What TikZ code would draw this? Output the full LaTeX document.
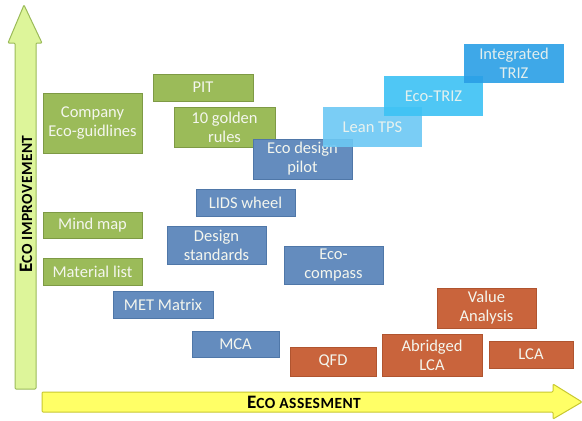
\documentclass[tikz,border=0pt]{standalone}
\usepackage{fontspec}
\setmainfont{Carlito}
\definecolor{gfill}{HTML}{9BBB59}
\definecolor{gdraw}{HTML}{7E9A45}
\definecolor{bfill}{HTML}{648CBE}
\definecolor{bdraw}{HTML}{4F77A8}
\definecolor{ofill}{HTML}{C9643C}
\definecolor{odraw}{HTML}{B0542F}
\definecolor{lt1}{HTML}{6CC8F4}
\definecolor{lt2}{HTML}{3CC2F4}
\definecolor{lt3}{HTML}{2A9FE6}
\definecolor{varrowfill}{HTML}{DDF59A}
\definecolor{varrowdraw}{HTML}{9BBB59}
\definecolor{harrowfill}{HTML}{FFFF66}
\definecolor{harrowdraw}{HTML}{C8C830}
\definecolor{boxtext}{HTML}{F4F6EE}
\newfontfamily\axisfont[LetterSpace=3]{Carlito}
\begin{document}
\begin{tikzpicture}[x=1pt,y=-1pt,
  box/.style={draw, line width=0.8pt, align=center, text=boxtext, inner sep=0pt,
    font=\fontsize{16.5}{19}\selectfont},
  gbox/.style={box, fill=gfill, draw=gdraw},
  bbox/.style={box, fill=bfill, draw=bdraw},
  obox/.style={box, fill=ofill, draw=odraw},
  tbox/.style={box, draw=none, fill opacity=0.9},
  axislabel/.style={font=\axisfont\bfseries, text=black}]
\useasboundingbox[fill=white] (0,0) rectangle (582,421);
% vertical arrow
\draw[fill=varrowfill, draw=varrowdraw, line width=1pt, rounded corners=1pt]
  (15,389) -- (15,43) -- (8,43) -- (24,5) -- (42,43) -- (36,43) -- (36,389) -- cycle;
\node[axislabel, rotate=90] (ylab) at (26,204) {{\fontsize{19}{19}\selectfont E}{\fontsize{15.5}{15.5}\selectfont CO IMPROVEMENT}};
% horizontal arrow
\draw[fill=harrowfill, draw=harrowdraw, line width=1pt, rounded corners=1pt]
  (42,392) -- (553,392) -- (553,384) -- (582,402) -- (553,419) -- (553,412) -- (42,412) -- cycle;
\node[axislabel] (xlab) at (304,402) {{\fontsize{19}{19}\selectfont E}{\fontsize{15.5}{15.5}\selectfont CO ASSESMENT}};
% green boxes
\node[gbox, minimum width=99pt, minimum height=60pt] (company) at (92.5,123) {Company\\Eco-guidlines};
\node[gbox, minimum width=100pt, minimum height=27pt] (pit) at (203,87.5) {PIT};
\node[gbox, minimum width=101pt, minimum height=40pt] (golden) at (224.5,127) {10 golden\\rules};
\node[gbox, minimum width=99pt, minimum height=26pt] (mind) at (92.5,225) {Mind map};
\node[gbox, minimum width=99pt, minimum height=27pt] (material) at (92.5,271.5) {Material list};
% blue boxes
\node[bbox, minimum width=99pt, minimum height=40pt] (pilot) at (302.5,159) {Eco design\\pilot};
\node[bbox, minimum width=99pt, minimum height=27pt] (lids) at (245.5,202.5) {LIDS wheel};
\node[bbox, minimum width=99pt, minimum height=38pt] (design) at (216.5,245) {Design\\standards};
\node[bbox, minimum width=99pt, minimum height=38pt] (compass) at (333.5,265) {Eco-\\compass};
\node[bbox, minimum width=100pt, minimum height=27pt] (met) at (163,304.5) {MET Matrix};
\node[bbox, minimum width=87pt, minimum height=26pt] (mca) at (235.5,344) {MCA};
% orange boxes
\node[obox, minimum width=86pt, minimum height=29pt] (qfd) at (333,361.5) {QFD};
\node[obox, minimum width=100pt, minimum height=42pt] (abridged) at (432,355) {Abridged\\LCA};
\node[obox, minimum width=99pt, minimum height=40pt] (value) at (486.5,308) {Value\\Analysis};
\node[obox, minimum width=84pt, minimum height=27pt] (lca) at (531,354.5) {LCA};
% light blue stair
\node[tbox, fill=lt1, minimum width=99pt, minimum height=40pt] (lean) at (372.5,127) {Lean TPS};
\node[tbox, fill=lt2, minimum width=99pt, minimum height=40pt] (ecotriz) at (433.5,96) {Eco-TRIZ};
\node[tbox, fill=lt3, minimum width=100pt, minimum height=39pt] (integrated) at (514,63.5) {Integrated\\TRIZ};
\end{tikzpicture}
\end{document}
